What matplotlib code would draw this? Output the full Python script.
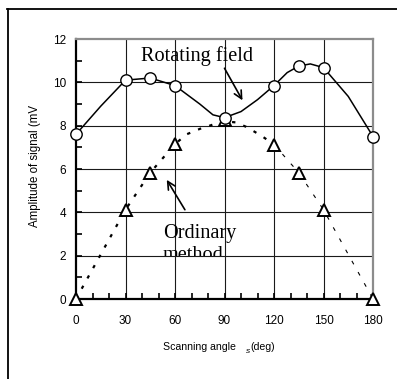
import matplotlib
matplotlib.use("Agg")
import matplotlib.pyplot as plt
from matplotlib.lines import Line2D
from matplotlib.transforms import Bbox, TransformedBbox
from matplotlib.ticker import MultipleLocator

# ---- data ----
angles = [0, 30, 45, 60, 90, 120, 135, 150, 180]
rot_vals = [7.6, 10.1, 10.2, 9.85, 8.37, 9.85, 10.75, 10.68, 7.5]
ord_vals = [0, 4.12, 5.83, 7.15, 8.25, 7.13, 5.83, 4.12, 0]

# smooth curve through the rotating-field points
rot_curve_x = [0, 15, 30, 45, 60, 75, 83, 90, 100, 110, 120, 128, 135, 142, 150, 165, 180]
rot_curve_y = [7.6, 8.9, 10.1, 10.2, 9.85, 9.0, 8.5, 8.37, 8.65, 9.2, 9.85, 10.45, 10.75, 10.85, 10.68, 9.35, 7.5]

# ordinary-method curve: thick dotted part and thin dashed part
ord_thick_x = [0, 30, 45, 60, 67, 75, 85, 90, 97, 103, 108, 113, 120]
ord_thick_y = [0, 4.12, 5.83, 7.15, 7.6, 7.85, 8.1, 8.2, 8.15, 7.95, 7.73, 7.5, 7.13]
ord_thin_x = [120, 135, 150, 180]
ord_thin_y = [7.13, 5.83, 4.12, 0]

xticks = [0, 30, 60, 90, 120, 150, 180]
yticks = [0, 2, 4, 6, 8, 10, 12]

W, H = 397, 379
fig = plt.figure(figsize=(W / 100, H / 100), dpi=100)
ax = fig.add_axes([76 / W, 1 - 299 / H, (373 - 76) / W, (299 - 39) / H])

ax.set_xlim(0, 180)
ax.set_ylim(0, 12)

# grid
for x in xticks[1:-1]:
    ax.axvline(x, color="#1a1a1a", lw=0.8, zorder=1)
for y in yticks[1:-1]:
    ax.axhline(y, color="#1a1a1a", lw=0.8, zorder=1)

# spines
for s in ["left", "bottom"]:
    ax.spines[s].set_color("black")
    ax.spines[s].set_linewidth(1.6)
for s in ["top", "right"]:
    ax.spines[s].set_color("#8c8c8c")
    ax.spines[s].set_linewidth(1.6)

# curves
ax.plot(rot_curve_x, rot_curve_y, color="black", lw=1.1, zorder=3, clip_on=False)
l1, = ax.plot(ord_thick_x, ord_thick_y, color="black", lw=1.6, zorder=2, clip_on=False)
l1.set_dashes((1.5, 3.8))
l2, = ax.plot(ord_thin_x, ord_thin_y, color="black", lw=0.8, zorder=2, clip_on=False)
l2.set_dashes((3.5, 8))

# markers
ax.plot(angles, ord_vals, linestyle="none", marker="^", markersize=8.5,
        markerfacecolor="white", markeredgecolor="black", markeredgewidth=1.4,
        zorder=4, clip_on=False)
ax.plot(angles, rot_vals, linestyle="none", marker="o", markersize=8.2,
        markerfacecolor="white", markeredgecolor="black", markeredgewidth=1.0,
        zorder=5, clip_on=False)

# ticks
ax.set_xticks(xticks)
ax.set_yticks(yticks)
ax.xaxis.set_minor_locator(MultipleLocator(10))
ax.yaxis.set_minor_locator(MultipleLocator(1))
ax.tick_params(axis="both", which="both", direction="in", color="black",
               top=False, right=False)
ax.tick_params(axis="both", which="major", length=4, width=1.2, labelsize=8.5)
ax.tick_params(axis="both", which="minor", length=4, width=1.2)
ax.tick_params(axis="x", which="major", pad=11.5)
ax.tick_params(axis="y", which="major", pad=7)
for lab in ax.get_xticklabels() + ax.get_yticklabels():
    lab.set_fontfamily("Liberation Sans")

# axis labels
fig.text(35 / W, 1 - 166 / H, "Amplitude of signal (mV", rotation=90,
         ha="center", va="center", fontsize=8.3, family="Liberation Sans")
fig.text(163 / W, 1 - 350 / H, "Scanning angle", ha="left", va="baseline",
         fontsize=7.6, family="Liberation Sans")
fig.text(246 / W, 1 - 353 / H, "s", ha="left", va="baseline",
         fontsize=6, style="italic", family="Liberation Sans")
fig.text(250 / W, 1 - 350 / H, "(deg)", ha="left", va="baseline",
         fontsize=7.6, family="Liberation Sans")

# annotations
ax.text(39.5, 11.0, "Rotating field", fontsize=14.6, family="Liberation Serif",
        ha="left", va="baseline", zorder=6)
ax.text(52.7, 2.82, "Ordinary", fontsize=14.6, family="Liberation Serif",
        ha="left", va="baseline", zorder=6)
t = ax.text(52.7, 1.8, "method", fontsize=14.6, family="Liberation Serif",
            ha="left", va="baseline", zorder=6)
clipbox = TransformedBbox(Bbox([[0, 1.98], [180, 12]]), ax.transData)
t.set_clip_box(clipbox)
t.set_clip_on(True)

ax.annotate("", xy=(100.9, 9.17), xytext=(90, 10.65),
            arrowprops=dict(arrowstyle="->", lw=1.2, color="black",
                            mutation_scale=14, shrinkA=0, shrinkB=0), zorder=6)
ax.annotate("", xy=(55, 5.5), xytext=(66, 4.12),
            arrowprops=dict(arrowstyle="->", lw=1.2, color="black",
                            mutation_scale=14, shrinkA=0, shrinkB=0), zorder=6)

# outer frame (top and left)
fig.add_artist(Line2D([7 / W, 1], [1 - 8.5 / H, 1 - 8.5 / H], color="black", lw=1.3))
fig.add_artist(Line2D([7.5 / W, 7.5 / W], [0, 1 - 8.5 / H], color="black", lw=1.3))

fig.savefig("out.png", dpi=100)
